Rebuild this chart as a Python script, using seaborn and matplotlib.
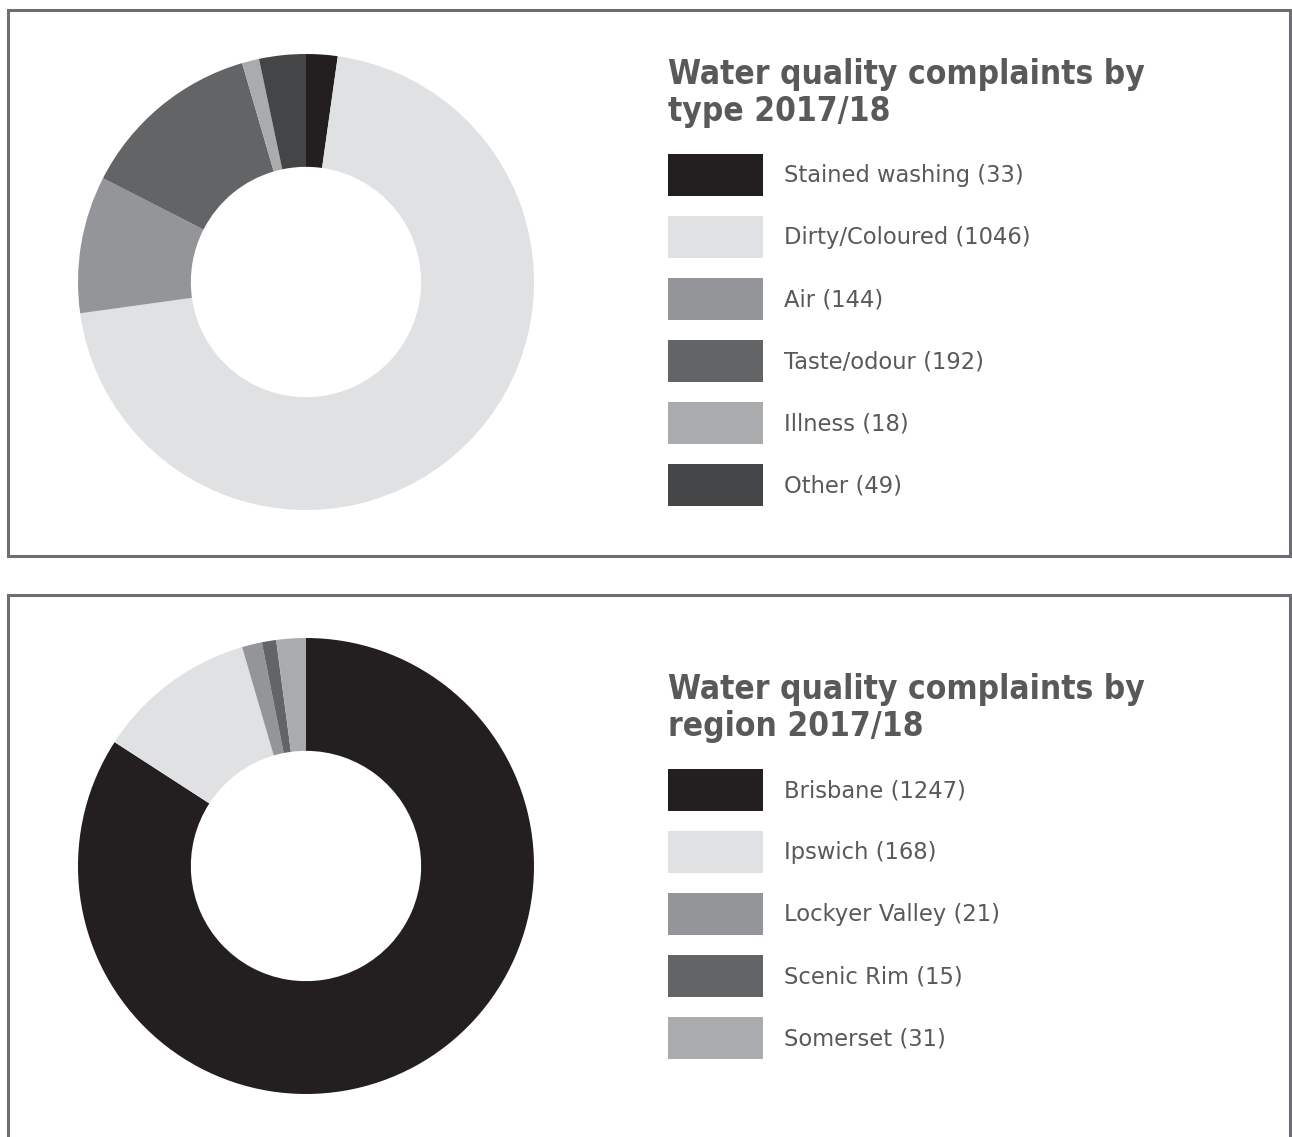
import matplotlib
matplotlib.use('Agg')
import matplotlib.pyplot as plt
import matplotlib.patches as mpatches
import seaborn as sns

# data
type_labels = ['Stained washing', 'Dirty/Coloured', 'Air', 'Taste/odour', 'Illness', 'Other']
type_values = [33, 1046, 144, 192, 18, 49]
type_colors = ['#231f20', '#e0e1e3', '#939598', '#636466', '#aaabad', '#444547']

region_labels = ['Brisbane', 'Ipswich', 'Lockyer Valley', 'Scenic Rim', 'Somerset']
region_values = [1247, 168, 21, 15, 31]
region_colors = ['#231f20', '#e0e1e3', '#939598', '#636466', '#aaabad']

sns.set_style('white')
plt.rcParams['font.family'] = ['DejaVu Sans']

W, H = 1292, 1137
fig = plt.figure(figsize=(W / 100, H / 100), dpi=100)
fig.patch.set_facecolor('white')

TEXT = '#58595b'


def box(left, top, w, h):
    return [left / W, 1 - (top + h) / H, w / W, h / H]


def panel(pie_cy, text_top, title_lines, labels, values, colors):
    # donut
    cx, r = 306, 228
    ax = fig.add_axes(box(cx - r, pie_cy - r, 2 * r, 2 * r))
    ax.pie(values, colors=colors, startangle=90, counterclock=False,
           radius=1, wedgeprops=dict(width=0.495, linewidth=0))
    ax.set_xlim(-1, 1)
    ax.set_ylim(-1, 1)
    ax.set_aspect('equal')
    ax.axis('off')

    # title, two lines
    for k, line in enumerate(title_lines):
        fig.text(668 / W, 1 - (text_top + 37 * k) / H, line, ha='left', va='baseline',
                 fontsize=24, fontweight='heavy', fontstretch='condensed',
                 color=TEXT, family='DejaVu Sans')

    # legend
    lg_top = text_top + 70
    lg = fig.add_axes(box(668, lg_top, 500, 62 * len(labels)))
    lg.set_xlim(0, 500)
    lg.set_ylim(62 * len(labels), 0)
    lg.axis('off')
    for i, (lab, val, col) in enumerate(zip(labels, values, colors)):
        y = 62 * i
        lg.add_patch(mpatches.Rectangle((0, y), 95, 42, facecolor=col, linewidth=0))
        lg.text(116, y + 22, f'{lab} ({val})', ha='left', va='center',
                fontsize=16.3, color=TEXT)


panel(282, 84, ['Water quality complaints by', 'type 2017/18'],
      type_labels, type_values, type_colors)
panel(866, 699, ['Water quality complaints by', 'region 2017/18'],
      region_labels, region_values, region_colors)

# panel borders
border = dict(fill=False, edgecolor='#6d6e71', linewidth=2.2, transform=fig.transFigure)
fig.patches.append(mpatches.Rectangle((8 / W, 1 - 556 / H), 1282 / W, 546 / H, **border))
fig.patches.append(mpatches.Rectangle((8 / W, -0.05), 1282 / W, 1 - 595 / H + 0.05, **border))

fig.savefig('out.png', dpi=100, facecolor='white')
